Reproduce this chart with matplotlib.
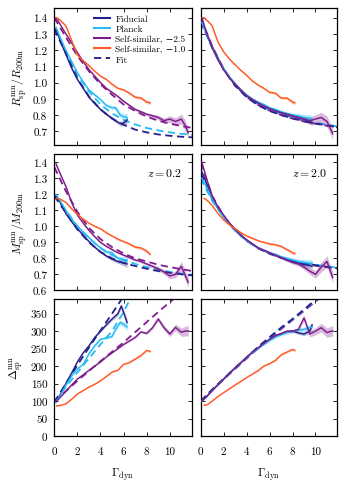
import numpy as np
import matplotlib
matplotlib.use("Agg")
import matplotlib.pyplot as plt
from matplotlib.lines import Line2D

# ============================================================================
# DADOS
# ============================================================================
# --- coluna esquerda (z = 0.2) ---
G_FID_L = [0.15, 0.5, 1.0, 1.5, 2.0, 2.5, 3.0, 3.5, 4.0, 4.5, 5.0, 5.5, 5.8, 6.1, 6.3]
R_FID_L = [1.33, 1.26, 1.175, 1.09, 1.02, 0.965, 0.91, 0.87, 0.835, 0.805, 0.78, 0.755, 0.745, 0.755, 0.77]
M_FID_L = [1.19, 1.15, 1.08, 1.03, 0.985, 0.945, 0.905, 0.87, 0.84, 0.815, 0.795, 0.78, 0.775, 0.77, 0.765]
D_FID_L = [98, 118, 150, 180, 212, 238, 258, 282, 300, 318, 335, 350, 372, 345, 325]
E_FID_L = [0.004, 0.004, 0.004, 0.005, 0.005, 0.006, 0.006, 0.007, 0.008, 0.01, 0.012, 0.015, 0.02, 0.025, 0.03]

G_PLK_L = [0.15, 0.5, 1.0, 1.5, 2.0, 2.5, 3.0, 3.5, 4.0, 4.5, 5.0, 5.3, 5.7, 6.0, 6.3]
R_PLK_L = [1.34, 1.28, 1.20, 1.13, 1.06, 1.005, 0.955, 0.925, 0.895, 0.86, 0.845, 0.845, 0.80, 0.79, 0.785]
M_PLK_L = [1.20, 1.16, 1.10, 1.045, 1.0, 0.965, 0.93, 0.895, 0.865, 0.84, 0.835, 0.81, 0.795, 0.79, 0.79]
D_PLK_L = [98, 115, 145, 172, 192, 205, 235, 258, 277, 280, 285, 305, 325, 320, 312]
E_PLK_L = [0.004, 0.004, 0.004, 0.005, 0.005, 0.006, 0.006, 0.007, 0.008, 0.01, 0.012, 0.015, 0.02, 0.025, 0.03]

G_SS25_L = [0.15, 0.5, 1.0, 1.5, 2.0, 2.5, 3.0, 3.5, 4.0, 4.5, 5.0, 5.5, 6.0, 6.5, 7.0, 7.5,
            8.0, 8.5, 9.0, 9.5, 10.0, 10.5, 11.0, 11.3, 11.6]
R_SS25_L = [1.40, 1.36, 1.30, 1.245, 1.185, 1.13, 1.08, 1.04, 1.00, 0.965, 0.94, 0.915, 0.885,
            0.86, 0.835, 0.82, 0.805, 0.795, 0.785, 0.765, 0.775, 0.76, 0.775, 0.74, 0.69]
M_SS25_L = [1.39, 1.33, 1.25, 1.15, 1.07, 1.02, 0.975, 0.935, 0.90, 0.875, 0.855, 0.835, 0.82,
            0.805, 0.79, 0.78, 0.765, 0.75, 0.735, 0.715, 0.69, 0.70, 0.75, 0.70, 0.65]
D_SS25_L = [98, 110, 128, 146, 163, 175, 188, 200, 212, 226, 238, 250, 262, 272, 282, 298,
            294, 310, 335, 310, 292, 311, 297, 300, 301]
E_SS25_L = [0.003, 0.003, 0.003, 0.003, 0.004, 0.004, 0.004, 0.005, 0.005, 0.005, 0.006, 0.006,
            0.007, 0.008, 0.009, 0.01, 0.012, 0.014, 0.018, 0.022, 0.026, 0.03, 0.04, 0.045, 0.05]

G_SS10_L = [0.2, 0.5, 1.0, 1.5, 2.0, 2.5, 3.0, 3.5, 4.0, 4.5, 5.0, 5.5, 6.0, 6.5, 7.0, 7.5, 8.0, 8.3]
R_SS10_L = [1.40, 1.385, 1.35, 1.26, 1.17, 1.135, 1.105, 1.07, 1.04, 1.02, 0.99, 0.965, 0.955,
            0.935, 0.91, 0.905, 0.88, 0.875]
M_SS10_L = [1.175, 1.17, 1.15, 1.11, 1.075, 1.045, 1.02, 1.0, 0.985, 0.96, 0.94, 0.92, 0.905,
            0.89, 0.87, 0.865, 0.845, 0.825]
D_SS10_L = [86, 87, 92, 105, 120, 130, 140, 148, 158, 170, 183, 188, 205, 210, 220, 230, 245, 242]
E_SS10_L = [0.003, 0.003, 0.003, 0.003, 0.003, 0.004, 0.004, 0.004, 0.005, 0.005, 0.006, 0.006,
            0.007, 0.008, 0.009, 0.01, 0.012, 0.012]

# --- coluna direita (z = 2.0) ---
G_FID_R = [0.1, 0.5, 1.0, 1.5, 2.0, 2.5, 3.0, 3.5, 4.0, 4.5, 5.0, 5.5, 6.0, 6.5, 7.0, 7.5,
           8.0, 8.5, 9.0, 9.5, 9.7]
R_FID_R = [1.38, 1.30, 1.215, 1.14, 1.08, 1.03, 0.99, 0.95, 0.92, 0.895, 0.875, 0.86, 0.84,
           0.83, 0.815, 0.805, 0.795, 0.785, 0.775, 0.76, 0.75]
M_FID_R = [1.34, 1.27, 1.18, 1.115, 1.065, 1.02, 0.98, 0.945, 0.915, 0.89, 0.865, 0.85, 0.835,
           0.82, 0.805, 0.79, 0.78, 0.77, 0.76, 0.755, 0.75]
D_FID_R = [100, 112, 130, 147, 163, 180, 195, 210, 225, 240, 252, 265, 277, 287, 293, 298,
           301, 295, 292, 300, 318]
E_FID_R = [0.004, 0.004, 0.004, 0.004, 0.004, 0.005, 0.005, 0.005, 0.005, 0.006, 0.006, 0.007,
           0.007, 0.008, 0.009, 0.01, 0.012, 0.014, 0.017, 0.02, 0.024]

G_PLK_R = [0.1, 0.5, 1.0, 1.5, 2.0, 2.5, 3.0, 3.5, 4.0, 4.5, 5.0, 5.5, 6.0, 6.5, 7.0, 7.5,
           8.0, 8.5, 9.0, 9.5, 9.7]
R_PLK_R = [1.37, 1.30, 1.22, 1.145, 1.085, 1.035, 0.995, 0.955, 0.925, 0.90, 0.88, 0.865, 0.845,
           0.835, 0.82, 0.81, 0.80, 0.795, 0.785, 0.78, 0.775]
M_PLK_R = [1.30, 1.25, 1.17, 1.11, 1.06, 1.015, 0.975, 0.94, 0.91, 0.885, 0.865, 0.85, 0.835,
           0.825, 0.81, 0.80, 0.79, 0.78, 0.775, 0.77, 0.77]
D_PLK_R = [100, 112, 130, 147, 163, 180, 195, 210, 225, 238, 250, 262, 273, 283, 290, 296,
           300, 303, 305, 310, 312]
E_PLK_R = [0.004, 0.004, 0.004, 0.004, 0.005, 0.005, 0.005, 0.006, 0.006, 0.007, 0.007, 0.008,
           0.009, 0.01, 0.012, 0.014, 0.017, 0.02, 0.024, 0.028, 0.03]

G_SS25_R = [0.1, 0.5, 1.0, 1.5, 2.0, 2.5, 3.0, 3.5, 4.0, 4.5, 5.0, 5.5, 6.0, 6.5, 7.0, 7.5,
            8.0, 8.5, 9.0, 9.5, 10.0, 10.5, 11.0, 11.5]
R_SS25_R = [1.40, 1.31, 1.22, 1.145, 1.08, 1.03, 0.99, 0.955, 0.92, 0.895, 0.875, 0.855, 0.84,
            0.825, 0.815, 0.805, 0.795, 0.785, 0.775, 0.765, 0.775, 0.785, 0.76, 0.685]
M_SS25_R = [1.40, 1.30, 1.19, 1.12, 1.07, 1.02, 0.98, 0.945, 0.915, 0.89, 0.865, 0.85, 0.835,
            0.82, 0.805, 0.79, 0.775, 0.765, 0.745, 0.72, 0.70, 0.745, 0.78, 0.68]
D_SS25_R = [100, 112, 130, 147, 163, 180, 195, 210, 225, 240, 252, 265, 277, 287, 293, 300,
            300, 305, 338, 292, 300, 310, 296, 301]
E_SS25_R = [0.003, 0.003, 0.003, 0.004, 0.004, 0.004, 0.005, 0.005, 0.005, 0.006, 0.006, 0.007,
            0.008, 0.009, 0.01, 0.012, 0.014, 0.017, 0.022, 0.028, 0.035, 0.04, 0.045, 0.05]

G_SS10_R = [0.3, 0.6, 1.0, 1.5, 2.0, 2.5, 3.0, 3.5, 4.0, 4.5, 5.0, 5.5, 6.0, 6.5, 7.0, 7.5, 8.0, 8.2]
R_SS10_R = [1.40, 1.38, 1.35, 1.25, 1.19, 1.145, 1.11, 1.075, 1.045, 1.01, 0.985, 0.965, 0.94,
            0.935, 0.905, 0.905, 0.88, 0.875]
M_SS10_R = [1.175, 1.16, 1.13, 1.08, 1.04, 1.01, 0.985, 0.96, 0.94, 0.925, 0.91, 0.90, 0.89,
            0.885, 0.875, 0.855, 0.835, 0.83]
D_SS10_R = [88, 90, 100, 113, 124, 135, 146, 156, 167, 177, 187, 200, 207, 216, 232, 240, 248, 245]
E_SS10_R = [0.003, 0.003, 0.003, 0.003, 0.003, 0.004, 0.004, 0.004, 0.005, 0.005, 0.006, 0.006,
            0.007, 0.008, 0.009, 0.01, 0.012, 0.012]

# --- ajustes (linhas tracejadas) ---
G_FIT = [0, 1, 2, 3, 4, 5, 6, 7, 8, 9, 10, 11, 12]
RF_FID_L = [1.33, 1.18, 1.025, 0.915, 0.835, 0.778, 0.74, 0.71, 0.693, 0.68, 0.672, 0.666, 0.662]
RF_PLK_L = [1.34, 1.19, 1.05, 0.945, 0.865, 0.81, 0.77, 0.742, 0.72, 0.705, 0.693, 0.684, 0.677]
RF_SS25_L = [1.40, 1.28, 1.165, 1.07, 0.99, 0.925, 0.865, 0.825, 0.79, 0.765, 0.747, 0.732, 0.72]
RF_FID_R = [1.38, 1.215, 1.08, 0.98, 0.91, 0.86, 0.825, 0.80, 0.78, 0.762, 0.748, 0.735, 0.725]
RF_PLK_R = [1.37, 1.22, 1.085, 0.985, 0.915, 0.865, 0.83, 0.805, 0.784, 0.766, 0.752, 0.74, 0.73]
RF_SS25_R = [1.40, 1.225, 1.085, 0.985, 0.912, 0.862, 0.827, 0.80, 0.778, 0.76, 0.746, 0.734, 0.724]
MF_FID_L = [1.19, 1.085, 0.98, 0.90, 0.84, 0.80, 0.77, 0.752, 0.735, 0.72, 0.71, 0.70, 0.693]
MF_PLK_L = [1.20, 1.10, 1.0, 0.925, 0.865, 0.82, 0.79, 0.765, 0.745, 0.73, 0.715, 0.705, 0.697]
MF_SS25_L = [1.37, 1.22, 1.09, 0.99, 0.92, 0.87, 0.83, 0.80, 0.78, 0.76, 0.745, 0.732, 0.72]
MF_FID_R = [1.33, 1.17, 1.06, 0.975, 0.91, 0.865, 0.83, 0.805, 0.785, 0.77, 0.757, 0.747, 0.737]
MF_PLK_R = [1.30, 1.16, 1.055, 0.972, 0.91, 0.865, 0.83, 0.806, 0.787, 0.772, 0.76, 0.75, 0.74]
MF_SS25_R = [1.40, 1.19, 1.065, 0.975, 0.91, 0.862, 0.828, 0.803, 0.783, 0.767, 0.754, 0.744, 0.735]
DF_FID_L = [97, 150, 203, 253, 302, 350, 400, 450, 500, 550, 600, 650, 700]
DF_PLK_L = [97, 140, 182, 222, 262, 300, 355, 420, 485, 550, 615, 680, 745]
DF_SS25_L = [100, 128, 158, 186, 214, 241, 268, 297, 326, 355, 383, 411, 439]
DF_FID_R = [100, 133, 164, 195, 225, 255, 283, 310, 335, 362, 390, 420, 450]
DF_PLK_R = [100, 132, 163, 194, 224, 254, 282, 309, 334, 361, 389, 418, 448]
DF_SS25_R = [100, 132, 162, 192, 222, 251, 279, 306, 332, 358, 385, 413, 440]

LABELS = ["Fiducial", "Planck", "Self-similar, \u22122.5", "Self-similar, \u22121.0", "Fit"]
Z_LABELS = ["$z = 0.2$", "$z = 2.0$"]

# ============================================================================
# ESTILO
# ============================================================================
plt.rcParams.update({
    "font.family": ["cmr10", "DejaVu Serif"],
    "mathtext.fontset": "cm",
    "axes.formatter.use_mathtext": True,
    "axes.unicode_minus": False,
    "font.size": 8,
    "axes.linewidth": 0.9,
    "xtick.direction": "in",
    "ytick.direction": "in",
    "xtick.top": True,
    "ytick.right": True,
    "xtick.major.size": 3,
    "ytick.major.size": 3,
    "xtick.major.width": 0.6,
    "ytick.major.width": 0.6,
    "xtick.labelsize": 8,
    "ytick.labelsize": 8,
})

C_FID = "#26208c"
C_PLK = "#22bbf5"
C_SS25 = "#7e1c8c"
C_SS10 = "#ff5a24"
C_FIT = "#1c1a7a"


def curva(ax, g, y, e, color):
    g = np.asarray(g)
    y = np.asarray(y, dtype=float)
    err = np.asarray(e) * y
    ax.fill_between(g, y - err, y + err, color=color, alpha=0.3, lw=0, zorder=2)
    ax.plot(g, y, color=color, lw=1.05, zorder=3)


def ajuste(ax, y, color):
    ax.plot(G_FIT, y, color=color, lw=1.3, dashes=(4, 2.5), zorder=1.8)


fig = plt.figure(figsize=(3.39, 4.85), dpi=100)

lefts = [54.3 / 339, 200.7 / 339]
widths = [137.4 / 339, 136.6 / 339]
bottoms = [1 - 146 / 485, 1 - 291.3 / 485, 1 - 437 / 485]
heights = [137 / 485, 136.3 / 485, 137.3 / 485]

painel = {
    (0, 0): [(G_FID_L, R_FID_L, E_FID_L), (G_PLK_L, R_PLK_L, E_PLK_L),
             (G_SS25_L, R_SS25_L, E_SS25_L), (G_SS10_L, R_SS10_L, E_SS10_L),
             RF_FID_L, RF_PLK_L, RF_SS25_L],
    (0, 1): [(G_FID_R, R_FID_R, E_FID_R), (G_PLK_R, R_PLK_R, E_PLK_R),
             (G_SS25_R, R_SS25_R, E_SS25_R), (G_SS10_R, R_SS10_R, E_SS10_R),
             RF_FID_R, RF_PLK_R, RF_SS25_R],
    (1, 0): [(G_FID_L, M_FID_L, E_FID_L), (G_PLK_L, M_PLK_L, E_PLK_L),
             (G_SS25_L, M_SS25_L, E_SS25_L), (G_SS10_L, M_SS10_L, E_SS10_L),
             MF_FID_L, MF_PLK_L, MF_SS25_L],
    (1, 1): [(G_FID_R, M_FID_R, E_FID_R), (G_PLK_R, M_PLK_R, E_PLK_R),
             (G_SS25_R, M_SS25_R, E_SS25_R), (G_SS10_R, M_SS10_R, E_SS10_R),
             MF_FID_R, MF_PLK_R, MF_SS25_R],
    (2, 0): [(G_FID_L, D_FID_L, E_FID_L), (G_PLK_L, D_PLK_L, E_PLK_L),
             (G_SS25_L, D_SS25_L, E_SS25_L), (G_SS10_L, D_SS10_L, E_SS10_L),
             DF_FID_L, DF_PLK_L, DF_SS25_L],
    (2, 1): [(G_FID_R, D_FID_R, E_FID_R), (G_PLK_R, D_PLK_R, E_PLK_R),
             (G_SS25_R, D_SS25_R, E_SS25_R), (G_SS10_R, D_SS10_R, E_SS10_R),
             DF_FID_R, DF_PLK_R, DF_SS25_R],
}

ylims = [(0.615, 1.46), (0.6, 1.452), (0, 393)]
yticks = [np.arange(0.7, 1.41, 0.1), np.arange(0.6, 1.41, 0.1), np.arange(0, 351, 50)]
ylabels = [r"$R_{\rm sp}^{\rm mn}/R_{\rm 200m}$", r"$M_{\rm sp}^{\rm mn}/M_{\rm 200m}$",
           r"$\Delta_{\rm sp}^{\rm mn}$"]

for (lin, col), itens in painel.items():
    ax = fig.add_axes([lefts[col], bottoms[lin], widths[col], heights[lin]])
    cores = [C_FID, C_PLK, C_SS25, C_SS10]
    for (g, y, e), c in zip(itens[:4], cores):
        curva(ax, g, y, e, c)
    ajuste(ax, itens[6], C_SS25)
    ajuste(ax, itens[5], C_PLK)
    ajuste(ax, itens[4], C_FID)

    ax.set_xlim(0, 11.9)
    ax.set_ylim(*ylims[lin])
    ax.set_xticks([0, 2, 4, 6, 8, 10])
    ax.set_yticks(yticks[lin])
    ax.tick_params(axis="x", pad=7.5)
    ax.tick_params(axis="y", pad=5)

    if lin < 2:
        ax.set_yticklabels([f"{v:.1f}" for v in yticks[lin]] if col == 0 else [])
    else:
        ax.set_yticklabels([f"{int(v)}" for v in yticks[lin]] if col == 0 else [])
    if lin < 2:
        ax.set_xticklabels([])
    else:
        ax.set_xticklabels([str(v) for v in [0, 2, 4, 6, 8, 10]])
        ax.set_xlabel(r"$\Gamma_{\rm dyn}$", fontsize=8.5, labelpad=7)
    if col == 0:
        ax.set_ylabel(ylabels[lin], fontsize=8.5, labelpad=3)
    if lin == 1:
        ax.text(0.93, 0.87, Z_LABELS[col], transform=ax.transAxes,
                ha="right", va="center", fontsize=8.5)

    if lin == 0 and col == 0:
        handles = [
            Line2D([], [], color=C_FID, lw=1.5),
            Line2D([], [], color=C_PLK, lw=1.5),
            Line2D([], [], color=C_SS25, lw=1.5),
            Line2D([], [], color=C_SS10, lw=1.5),
            Line2D([], [], color=C_FIT, lw=1.3, dashes=(4, 2.5)),
        ]
        ax.legend(handles, LABELS, loc="upper left", bbox_to_anchor=(0.275, 0.97),
                  frameon=False, fontsize=6.7, labelspacing=0.1, handlelength=1.7,
                  handleheight=0.95, handletextpad=0.6, borderpad=0.2, borderaxespad=0)

fig.savefig("out.png", dpi=100)
